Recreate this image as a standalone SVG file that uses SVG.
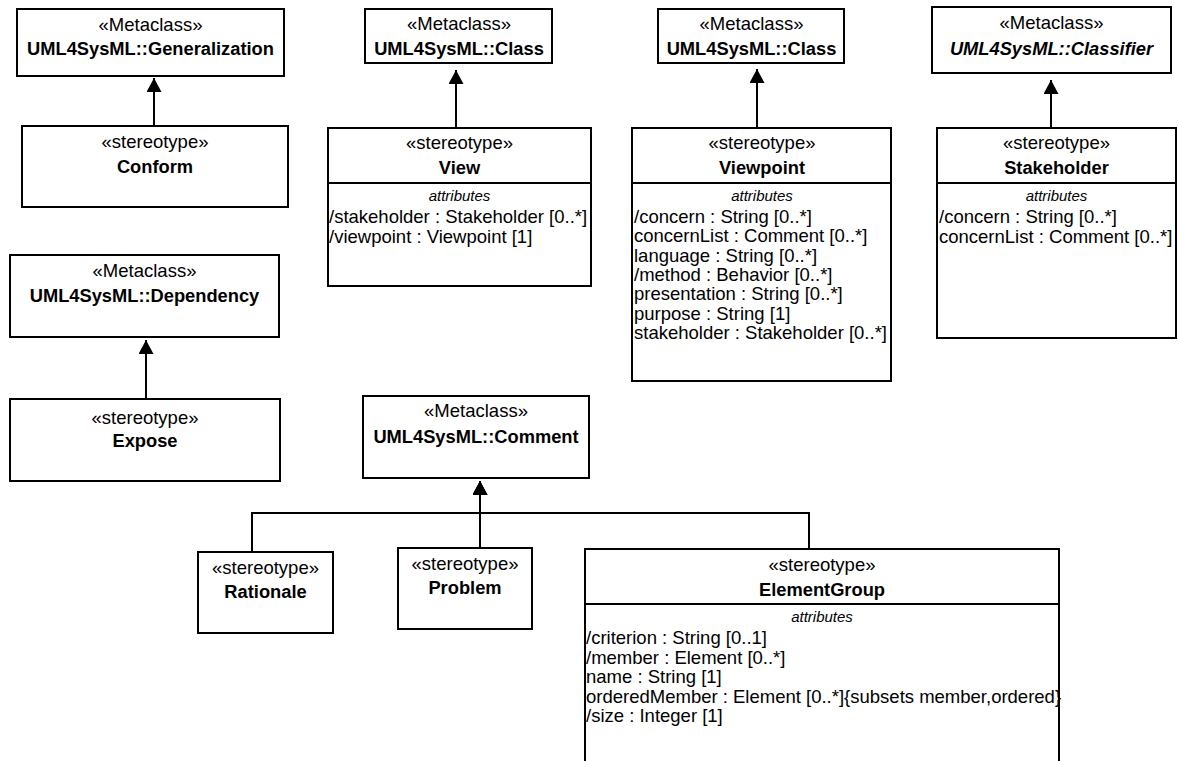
<svg xmlns="http://www.w3.org/2000/svg" width="1179" height="761" viewBox="0 0 1179 761">
<defs>
<style>
.box{fill:#fff;stroke:#000;stroke-width:2}
.div{stroke:#000;stroke-width:2}
text{font-family:"Liberation Sans",Arial,sans-serif;font-size:18.5px;fill:#000}
.c{text-anchor:middle}
.b{font-weight:bold;font-size:18.3px}
.bi{font-weight:bold;font-style:italic;font-size:18.3px}
.it{font-style:italic;font-size:15px;text-anchor:middle}
.edge{fill:none;stroke:#000;stroke-width:2;marker-end:url(#tri)}
</style>
<marker id="tri" markerUnits="userSpaceOnUse" markerWidth="14" markerHeight="15" refX="14" refY="7.5" orient="auto" viewBox="0 0 14 15">
<path d="M0,0 L14,7.5 L0,15 z" fill="#000"/>
</marker>
</defs>
<rect width="1179" height="761" fill="#fff"/>

<g id="connectors">
<path class="edge" d="M154,126 V78"/>
<path class="edge" d="M456,128 V70"/>
<path class="edge" d="M757,128 V69"/>
<path class="edge" d="M1051,128 V80"/>
<path class="edge" d="M146,399 V340"/>
<path class="edge" d="M480,548 V481"/>
<path class="edge" d="M252,552 V513 H480 V481"/>
<path class="edge" d="M809,549 V513 H480 V481"/>
</g>

<g id="generalization">
<rect class="box" x="17" y="9" width="267" height="67"/>
<text class="c" x="150.5" y="31">«Metaclass»</text>
<text class="c b" x="150.5" y="55">UML4SysML::Generalization</text>
</g>

<g id="conform">
<rect class="box" x="22" y="126" width="266" height="81"/>
<text class="c" x="155" y="148">«stereotype»</text>
<text class="c b" x="155" y="173">Conform</text>
</g>

<g id="class1">
<rect class="box" x="365" y="9" width="187" height="54"/>
<text class="c" x="459" y="30">«Metaclass»</text>
<text class="c b" x="459" y="55">UML4SysML::Class</text>
</g>

<g id="view">
<rect class="box" x="328" y="128" width="263" height="158"/>
<line class="div" x1="328" y1="183" x2="591" y2="183"/>
<text class="c" x="459.5" y="149">«stereotype»</text>
<text class="c b" x="459.5" y="174">View</text>
<text class="it" x="459.5" y="201">attributes</text>
<text x="329" y="223">/stakeholder : Stakeholder [0..*]</text>
<text x="329" y="242.5">/viewpoint : Viewpoint [1]</text>
</g>

<g id="class2">
<rect class="box" x="658" y="9" width="186" height="54"/>
<text class="c" x="751.5" y="30">«Metaclass»</text>
<text class="c b" x="751.5" y="55">UML4SysML::Class</text>
</g>

<g id="viewpoint">
<rect class="box" x="632" y="128" width="259" height="253"/>
<line class="div" x1="632" y1="183" x2="891" y2="183"/>
<text class="c" x="762" y="149">«stereotype»</text>
<text class="c b" x="762" y="174">Viewpoint</text>
<text class="it" x="762" y="201">attributes</text>
<text x="634" y="223">/concern : String [0..*]</text>
<text x="634" y="242.3">concernList : Comment [0..*]</text>
<text x="634" y="261.6">language : String [0..*]</text>
<text x="634" y="280.9">/method : Behavior [0..*]</text>
<text x="634" y="300.2">presentation : String [0..*]</text>
<text x="634" y="319.5">purpose : String [1]</text>
<text x="634" y="338.8">stakeholder : Stakeholder [0..*]</text>
</g>

<g id="classifier">
<rect class="box" x="932" y="7" width="239" height="66"/>
<text class="c" x="1051.5" y="29">«Metaclass»</text>
<text class="c bi" x="1051.5" y="55">UML4SysML::Classifier</text>
</g>

<g id="stakeholder">
<rect class="box" x="937" y="128" width="239" height="210"/>
<line class="div" x1="937" y1="183" x2="1176" y2="183"/>
<text class="c" x="1056.5" y="149">«stereotype»</text>
<text class="c b" x="1056.5" y="174">Stakeholder</text>
<text class="it" x="1056.5" y="201">attributes</text>
<text x="939" y="223">/concern : String [0..*]</text>
<text x="939" y="242.5">concernList : Comment [0..*]</text>
</g>

<g id="dependency">
<rect class="box" x="10" y="255" width="269" height="82"/>
<text class="c" x="144.5" y="277">«Metaclass»</text>
<text class="c b" x="144.5" y="302">UML4SysML::Dependency</text>
</g>

<g id="expose">
<rect class="box" x="10" y="399" width="270" height="82"/>
<text class="c" x="145" y="424">«stereotype»</text>
<text class="c b" x="145" y="447">Expose</text>
</g>

<g id="comment">
<rect class="box" x="363" y="396" width="226" height="82"/>
<text class="c" x="476" y="417">«Metaclass»</text>
<text class="c b" x="476" y="443">UML4SysML::Comment</text>
</g>

<g id="rationale">
<rect class="box" x="198" y="552" width="135" height="81"/>
<text class="c" x="265.5" y="574">«stereotype»</text>
<text class="c b" x="265.5" y="598">Rationale</text>
</g>

<g id="problem">
<rect class="box" x="398" y="548" width="134" height="81"/>
<text class="c" x="465" y="570">«stereotype»</text>
<text class="c b" x="465" y="594">Problem</text>
</g>

<g id="elementgroup">
<rect class="box" x="585" y="549" width="474" height="260"/>
<line class="div" x1="585" y1="604" x2="1059" y2="604"/>
<text class="c" x="822" y="571">«stereotype»</text>
<text class="c b" x="822" y="596">ElementGroup</text>
<text class="it" x="822" y="622">attributes</text>
<text x="586" y="644">/criterion : String [0..1]</text>
<text x="586" y="663.5">/member : Element [0..*]</text>
<text x="586" y="683">name : String [1]</text>
<text x="586" y="702.5">orderedMember : Element [0..*]{subsets member,ordered}</text>
<text x="586" y="722">/size : Integer [1]</text>
</g>
</svg>
